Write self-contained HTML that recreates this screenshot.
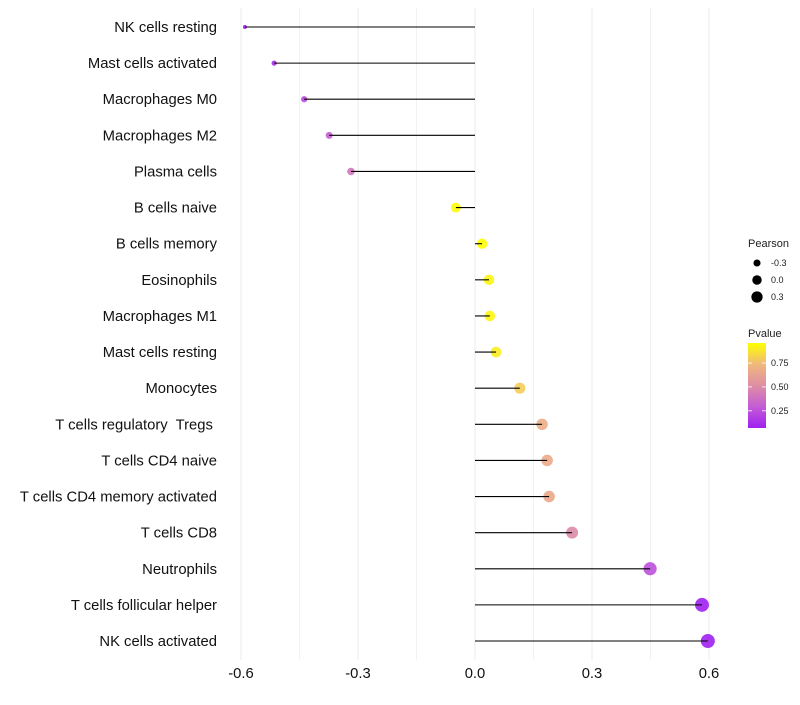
<!DOCTYPE html>
<html><head><meta charset="utf-8"><style>
body{margin:0;background:#fff;font-family:"Liberation Sans",sans-serif}
</style></head><body>
<svg id="c" width="800" height="700" style="font-family:'Liberation Sans',sans-serif"></svg>
<script>
const categories=["NK cells resting","Mast cells activated","Macrophages M0","Macrophages M2","Plasma cells","B cells naive","B cells memory","Eosinophils","Macrophages M1","Mast cells resting","Monocytes","T cells regulatory  Tregs ","T cells CD4 naive","T cells CD4 memory activated","T cells CD8","Neutrophils","T cells follicular helper","NK cells activated"];
const pearson=[-0.59,-0.515,-0.438,-0.374,-0.318,-0.049,0.018,0.036,0.038,0.054,0.115,0.172,0.185,0.19,0.249,0.449,0.582,0.597];
const pvalue=[0.05,0.12,0.22,0.3,0.4,0.95,0.96,0.93,0.93,0.9,0.8,0.68,0.67,0.66,0.5,0.25,0.07,0.05];
const xTicks=[-0.6,-0.3,0.0,0.3,0.6];
const xTickLabels=["-0.6","-0.3","0.0","0.3","0.6"];
const legendSizes=[-0.3,0.0,0.3];
const legendColorTicks=[0.25,0.5,0.75];

const svg=document.getElementById('c');
const NS="http://www.w3.org/2000/svg";
function mk(t,a,p){const e=document.createElementNS(NS,t);for(const k in a)e.setAttribute(k,a[k]);(p||svg).appendChild(e);return e;}
const xs=v=>475+v*390;
const ys=i=>27+i*(614/17);
const rs=v=>Math.sqrt(Math.max(1,26.3+37.8*v));
const pMin=0.07,pMax=0.96;
function hex(h){return [1,3,5].map(i=>parseInt(h.substr(i,2),16));}
const stops=[hex("#A020F0"),hex("#C45CD6"),hex("#DE8EA4"),hex("#F0B87C"),hex("#FFFF00")];
function col(p){let t=(p-pMin)/(pMax-pMin);t=Math.max(0,Math.min(1,t));let s=Math.min(3,Math.floor(t*4));const u=t*4-s;const a=stops[s],b=stops[s+1];return "rgb("+a.map((c,i)=>Math.round(c+(b[i]-c)*u)).join(",")+")";}

[-0.45,-0.15,0.15,0.45].forEach(v=>{const l=mk('line',{x1:xs(v),x2:xs(v),y1:8,y2:660,stroke:'#f2f2f2','stroke-width':1});});
xTicks.forEach((v,i)=>{const l=mk('line',{x1:xs(v),x2:xs(v),y1:8,y2:660,stroke:'#ebebeb','stroke-width':1});
const t=mk('text',{x:xs(v),y:678,'text-anchor':'middle','font-size':14.8,fill:'#111'});t.textContent=xTickLabels[i];});
categories.forEach((c,i)=>{
const t=mk('text',{x:217,y:ys(i)+5,'text-anchor':'end','font-size':14.8,fill:'#111','xml:space':'preserve',style:'white-space:pre'});t.textContent=c;
const d=mk('circle',{cx:xs(pearson[i]),cy:ys(i),r:rs(pearson[i]),fill:col(pvalue[i]),'fill-opacity':0.9});
const l=mk('line',{x1:xs(0),x2:xs(pearson[i]),y1:ys(i),y2:ys(i),stroke:'#000','stroke-width':1.1});
});
let tl=mk('text',{x:748,y:247,'font-size':11,fill:'#222'});tl.textContent="Pearson";
legendSizes.forEach((v,i)=>{const c=mk('circle',{cx:757,cy:263+i*17,r:rs(v)*0.92,fill:'#000'});
const tt=mk('text',{x:771,y:266+i*17,'font-size':9,fill:'#222'});tt.textContent=v.toFixed(1);});
tl=mk('text',{x:748,y:337,'font-size':11,fill:'#222'});tl.textContent="Pvalue";
const defs=mk('defs',{});const gr=mk('linearGradient',{id:'gr',x1:0,y1:1,x2:0,y2:0},defs);
stops.forEach((s,i)=>mk('stop',{offset:i/4,'stop-color':'rgb('+s.join(',')+')'},gr));
const legTop=343,legBot=428,ly=p=>legBot-(p-pMin)/(pMax-pMin)*(legBot-legTop);
const bar=mk('rect',{x:748,y:legTop,width:18,height:legBot-legTop,fill:'url(#gr)'});
legendColorTicks.forEach(v=>{mk('line',{x1:748,x2:752,y1:ly(v),y2:ly(v),stroke:'#fff','stroke-width':0.8});mk('line',{x1:762,x2:766,y1:ly(v),y2:ly(v),stroke:'#fff','stroke-width':0.8});
const tt=mk('text',{x:771,y:ly(v)+3,'font-size':9,fill:'#222'});tt.textContent=v.toFixed(2);});
</script>
</body></html>
